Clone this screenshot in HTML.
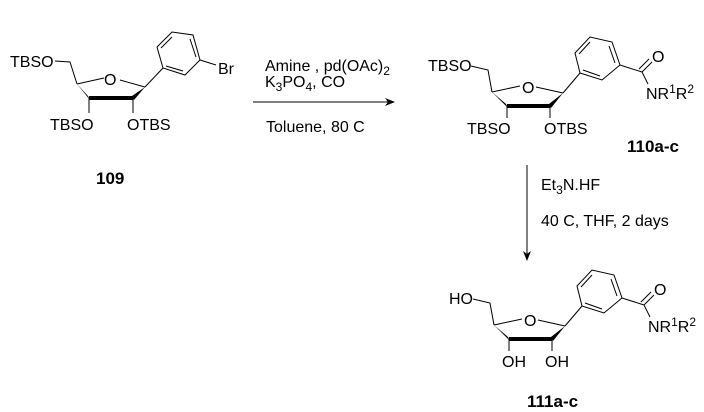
<!DOCTYPE html>
<html><head><style>
body{margin:0;background:#fff}
svg{display:block}
text{font-family:"Liberation Sans",Arial,sans-serif;font-size:16px;fill:#000}
.b{font-weight:bold;font-size:17px}
</style></head><body>
<svg width="704" height="412" viewBox="0 0 704 412" xmlns="http://www.w3.org/2000/svg">
<defs>
<marker id="ah" markerWidth="10" markerHeight="8" refX="9" refY="4" orient="auto" markerUnits="userSpaceOnUse"><path d="M0,0 L10,4 L0,8 L3,4 Z" fill="#000"/></marker>
</defs>
<g stroke="#000" stroke-width="1" fill="none">
<!-- 109 -->
<polyline points="55,61 70,62 77,84"/>
<line x1="77" y1="84" x2="104" y2="78"/>
<line x1="120" y1="80" x2="145" y2="87"/>
<line x1="89" y1="98" x2="89" y2="113"/>
<line x1="133" y1="98" x2="133" y2="113"/>
<line x1="145" y1="87" x2="163" y2="68"/>
<polygon points="163,68 157,47 172,32 193,35 200,60 185,75"/>
<line x1="161" y1="48" x2="172" y2="37"/>
<line x1="190" y1="39" x2="196" y2="57"/>
<line x1="183" y1="71" x2="166" y2="66"/>
<line x1="200" y1="60" x2="216" y2="65"/>
</g>
<polygon points="77,84 88,96 90,100" fill="#000"/>
<line x1="89" y1="98" x2="133" y2="98" stroke="#000" stroke-width="4"/>
<polygon points="132,96 134,100 145,87" fill="#000"/>
<text x="10" y="67">TBSO</text>
<text x="104" y="85">O</text>
<text x="50" y="130">TBSO</text>
<text x="127" y="130">OTBS</text>
<text x="218" y="74">Br</text>
<text x="96" y="184" class="b">109</text>

<!-- arrow 1 -->
<line x1="253" y1="102" x2="394" y2="102" stroke="#000" stroke-width="1" marker-end="url(#ah)"/>
<text x="265" y="71">Amine , pd(OAc)<tspan font-size="12" dy="4">2</tspan></text>
<text x="265" y="87">K<tspan font-size="12" dy="4">3</tspan><tspan dy="-4">PO</tspan><tspan font-size="12" dy="4">4</tspan><tspan dy="-4">, CO</tspan></text>
<text x="266" y="132">Toluene, 80 C</text>

<!-- skeleton 110 -->
<g id="sk">
<g stroke="#000" stroke-width="1" fill="none">
<polyline points="471,66 488,70 492,92"/>
<line x1="492" y1="92" x2="520" y2="86"/>
<line x1="536" y1="87" x2="563" y2="93"/>
<line x1="507" y1="106" x2="507" y2="118"/>
<line x1="550" y1="106" x2="550" y2="118"/>
<line x1="563" y1="93" x2="580" y2="73"/>
<polygon points="580,73 575,53 590,37 612,42 620,65 602,80"/>
<line x1="579" y1="54" x2="590" y2="42"/>
<line x1="609" y1="46" x2="615" y2="63"/>
<line x1="600" y1="76" x2="583" y2="70"/>
<line x1="620" y1="65" x2="642" y2="72"/>
<line x1="642" y1="72" x2="652" y2="62"/>
<line x1="639" y1="69" x2="649" y2="59"/>
<line x1="642" y1="72" x2="648" y2="84"/>
</g>
<polygon points="492,92 506,104 508,108" fill="#000"/>
<line x1="507" y1="106" x2="550" y2="106" stroke="#000" stroke-width="4"/>
<polygon points="549,104 551,108 563,93" fill="#000"/>
<text x="522" y="93">O</text>
<text x="652" y="62">O</text>
<text x="646" y="99">NR<tspan font-size="12" dy="-6">1</tspan><tspan dy="6">R</tspan><tspan font-size="12" dy="-6">2</tspan></text>
</g>
<text x="428" y="71">TBSO</text>
<text x="467" y="134">TBSO</text>
<text x="544" y="134">OTBS</text>
<text x="627" y="152" class="b">110a-c</text>

<!-- arrow 2 -->
<line x1="527" y1="165" x2="527" y2="260" stroke="#000" stroke-width="1" marker-end="url(#ah)"/>
<text x="541" y="190">Et<tspan font-size="12" dy="4">3</tspan><tspan dy="-4">N.HF</tspan></text>
<text x="541" y="226">40 C, THF, 2 days</text>

<!-- 111 -->
<use href="#sk" transform="translate(2,233)"/>
<text x="449" y="304">HO</text>
<text x="502" y="367">OH</text>
<text x="545" y="367">OH</text>
<text x="527" y="407" class="b">111a-c</text>
</svg>
</body></html>
